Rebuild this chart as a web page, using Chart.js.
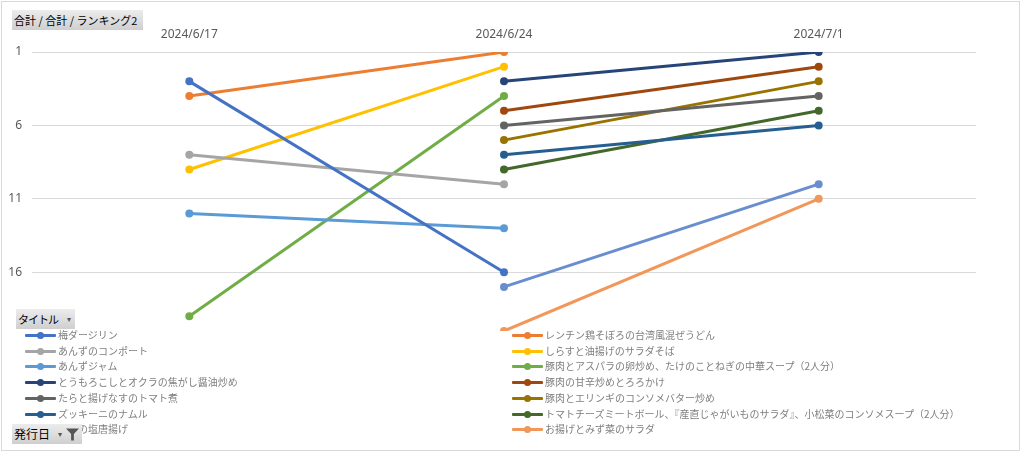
<!DOCTYPE html>
<html lang="ja">
<head>
<meta charset="utf-8">
<script src="https://cdn.jsdelivr.net/npm/chart.js@4"></script>
<style>
  body { margin: 0; background: #fff; }
  #wrap { position: relative; width: 1024px; height: 453px; overflow: hidden; font-family: "Noto Sans CJK JP", "Noto Sans", sans-serif; }
  #frame { position: absolute; left: 1px; top: 1px; width: 1019px; height: 450px; border: 1px solid #d9d9d9; box-sizing: border-box; pointer-events: none; }
  canvas { position: absolute; left: 0; top: 0; }
  .btn { position: absolute; height: 20px; line-height: 20px; font-size: 11px; color: #000; padding-left: 2px;
         background: linear-gradient(#ececec, #cfcfcf); box-sizing: border-box; white-space: nowrap; overflow: hidden; }
  .btn .arrow { position: absolute; font-size: 8px; color: #555; top: 0; }
  .leg { position: absolute; height: 14px; font-size: 10px; line-height: 14px; color: #7f7f7f; white-space: nowrap; }
  .leg .ln { position: absolute; left: 0; top: 6px; width: 31px; height: 3px; border-radius: 1px; }
  .leg .dot { position: absolute; left: 12px; top: 4px; width: 7px; height: 7px; border-radius: 50%; }
  .leg .tx { position: absolute; left: 33px; top: 0; }
</style>
</head>
<body>
<div id="wrap">
  <canvas id="chart" width="1024" height="453"></canvas>
  <div id="legend"></div>
  <div class="btn" style="left:12px;top:10px;width:131px;">合計 / 合計 / ランキング2</div>
  <div class="btn" style="left:16px;top:309px;width:59px;"><span style="letter-spacing:-1px">タイトル</span><span class="arrow" style="left:51px">▾</span></div>
  <div class="btn" style="left:12px;top:424px;width:70px;font-size:12px;">発行日<span class="arrow" style="left:46px">▾</span>
    <svg width="13" height="13" viewBox="0 0 14 13" style="position:absolute;left:54px;top:4px"><path d="M0 0 H14 L8.5 6 V13 H5.5 V6 Z" fill="#555"/></svg></div>
  <div id="frame"></div>
</div>
<script>
// 発行日
const dates = ['2024/6/17', '2024/6/24', '2024/7/1'];
// タイトル（凡例順）
const titles = [
  '梅ダージリン',
  'レンチン鶏そぼろの台湾風混ぜうどん',
  'あんずのコンポート',
  'しらすと油揚げのサラダそば',
  'あんずジャム',
  '豚肉とアスパラの卵炒め、たけのことねぎの中華スープ（2人分）',
  'とうもろこしとオクラの焦がし醤油炒め',
  '豚肉の甘辛炒めとろろかけ',
  'たらと揚げなすのトマト煮',
  '豚肉とエリンギのコンソメバター炒め',
  'ズッキーニのナムル',
  'トマトチーズミートボール、『産直じゃがいものサラダ』、小松菜のコンソメスープ（2人分）',
  '鶏肉の塩唐揚げ',
  'お揚げとみず菜のサラダ'
];
// ランキング（日付ごと）
const ranks = [
  [3, 16, null],
  [4, 1, null],
  [8, 10, null],
  [9, 2, null],
  [12, 13, null],
  [19, 4, null],
  [null, 3, 1],
  [null, 5, 2],
  [null, 6, 4],
  [null, 7, 3],
  [null, 8, 6],
  [null, 9, 5],
  [null, 17, 10],
  [null, 20, 11]
];
const colors = ['#4472C4', '#ED7D31', '#A5A5A5', '#FFC000', '#5B9BD5', '#70AD47', '#264478',
                '#9E480E', '#636363', '#997300', '#255E91', '#43682B', '#698ED0', '#F1975A'];
const yTicks = [1, 6, 11, 16];

const datasets = titles.map(function (t, i) {
  return {
    label: t,
    data: ranks[i],
    borderColor: colors[i],
    backgroundColor: colors[i],
    borderWidth: 3,
    pointRadius: 4,
    pointHoverRadius: 4,
    pointBorderWidth: 0,
    tension: 0
  };
});

new Chart(document.getElementById('chart'), {
  type: 'line',
  data: { labels: dates, datasets: datasets },
  options: {
    responsive: false,
    animation: false,
    layout: { padding: { top: 0, right: 48, bottom: 122, left: 0 } },
    plugins: { legend: { display: false }, tooltip: { enabled: false } },
    scales: {
      x: {
        position: 'top',
        offset: true,
        grid: { display: false },
        border: { display: false },
        ticks: { color: '#595959', font: { family: 'Noto Sans', size: 12 }, padding: 2, maxRotation: 0 },
        afterFit: function (s) { s.height = 52; }
      },
      y: {
        reverse: true,
        min: 1,
        max: 20,
        border: { display: false },
        grid: { color: '#d9d9d9', drawTicks: false },
        afterBuildTicks: function (s) { s.ticks = yTicks.map(function (v) { return { value: v }; }); },
        ticks: { color: '#595959', font: { family: 'Noto Sans', size: 12 }, padding: 10 },
        afterFit: function (s) { s.width = 32; }
      }
    }
  }
});

// 凡例（2列、行優先）
const legend = document.getElementById('legend');
titles.forEach(function (t, i) {
  const col = i % 2, row = Math.floor(i / 2);
  const el = document.createElement('div');
  el.className = 'leg';
  el.style.left = (col ? 512 : 25) + 'px';
  el.style.top = (328 + row * 15.7) + 'px';
  el.innerHTML = '<span class="ln" style="background:' + colors[i] + '"></span>' +
    '<span class="dot" style="background:' + colors[i] + '"></span><span class="tx"></span>';
  el.querySelector('.tx').textContent = t;
  legend.appendChild(el);
});
</script>
</body>
</html>
